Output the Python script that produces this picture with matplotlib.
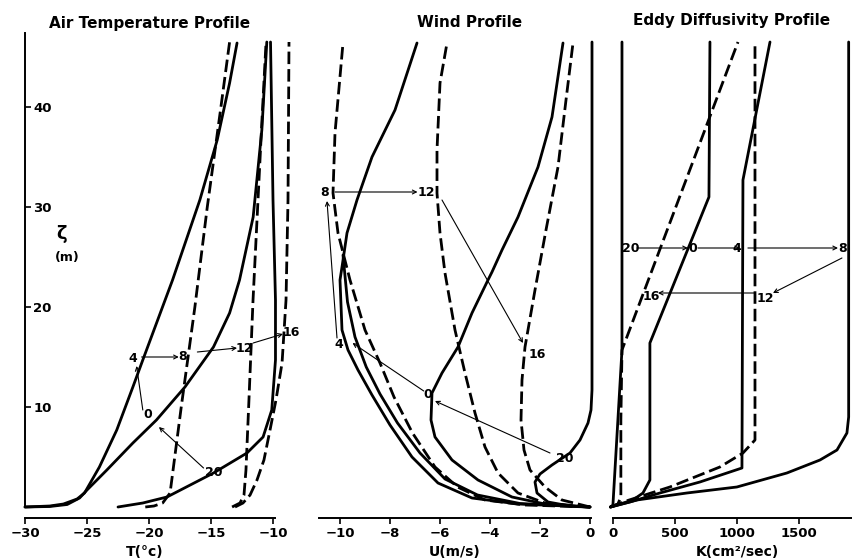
import matplotlib.pyplot as plt

plt.rcParams['font.family'] = ['DejaVu Sans']
plt.rcParams['font.weight'] = 'bold'

# heights are in metres; one profile per hour (0, 4, ... 20)
# air temperature (deg C)
temp_h0 = [-30.0, -28.0, -26.6, -25.6, -25.0, -23.4, -21.3, -19.4, -17.1, -14.8, -13.5, -12.7, -11.6, -10.9, -10.5]
z_temp_h0 = [0.0, 0.05, 0.25, 0.9, 1.7, 3.7, 6.4, 8.7, 12.0, 16.0, 19.4, 22.7, 29.0, 37.7, 46.5]
temp_h4 = [-30.0, -28.0, -26.9, -25.8, -25.2, -24.0, -22.6, -21.3, -20.5, -18.1, -15.9, -14.5, -13.5, -12.9]
z_temp_h4 = [0.0, 0.1, 0.3, 0.8, 1.4, 4.0, 7.7, 12.0, 14.7, 22.7, 30.7, 36.7, 42.4, 46.4]
temp_h8 = [-20.3, -19.6, -18.9, -18.3, -17.4, -16.3, -15.3, -14.2, -13.5]
z_temp_h8 = [0.0, 0.1, 0.4, 1.4, 10.0, 20.0, 30.0, 40.0, 46.5]
temp_h12 = [-13.3, -12.66, -12.34, -12.18, -11.94, -11.61, -11.21, -10.89, -10.56]
z_temp_h12 = [0.0, 0.4, 1.2, 3.7, 10.7, 20.7, 30.7, 38.7, 46.5]
temp_h16 = [-13.06, -12.42, -11.85, -11.29, -10.73, -10.24, -9.76, -9.27, -8.95, -8.79, -8.71]
z_temp_h16 = [0.0, 0.4, 1.2, 2.7, 4.7, 7.7, 10.7, 14.4, 20.7, 30.7, 46.5]
temp_h20 = [-22.5, -20.5, -18.55, -14.8, -12.1, -10.8, -10.1, -9.8, -9.8, -10.0, -10.2]
z_temp_h20 = [0.0, 0.4, 1.0, 3.4, 5.4, 7.0, 9.7, 14.7, 20.7, 30.7, 46.5]

# wind speed (m/s)
wind_h0 = [0.0, -1.8, -3.12, -4.48, -5.52, -6.2, -6.36, -6.32, -5.92, -5.28, -4.72, -4.08, -3.92, -3.52, -2.88, -2.08, -1.52, -1.08]
z_wind_h0 = [0.0, 0.3, 1.0, 2.7, 4.7, 7.0, 8.7, 11.4, 13.4, 16.0, 19.4, 22.7, 23.5, 25.7, 29.0, 34.0, 39.0, 46.4]
wind_h4 = [0.0, -2.88, -4.72, -6.08, -7.12, -8.0, -8.72, -9.28, -9.68, -9.92, -10.0, -9.92, -9.72, -9.32, -8.72, -7.8, -6.92]
z_wind_h4 = [0.0, 0.3, 0.9, 2.4, 5.0, 8.2, 11.2, 13.7, 15.7, 17.7, 22.7, 24.0, 27.4, 30.7, 35.0, 39.7, 46.4]
# second solid trace below the crossing with the hour-8 curve
wind_h4b = [0.0, -2.8, -4.5, -5.8, -6.8, -7.7, -8.4, -8.95, -9.4, -9.7, -9.88]
z_wind_h4b = [0.0, 0.35, 1.2, 2.8, 5.4, 8.4, 11.3, 14.0, 17.0, 20.5, 25.2]
wind_h8 = [0.0, -2.6, -4.2, -5.3, -6.2, -7.1, -7.84, -8.4, -9.0, -9.6, -10.08, -10.28, -10.2, -9.88]
z_wind_h8 = [0.0, 0.2, 0.7, 2.0, 4.0, 7.4, 11.0, 14.4, 17.7, 22.7, 27.4, 31.4, 37.4, 46.4]
wind_h12 = [0.0, -1.8, -2.88, -3.68, -4.2, -4.6, -5.0, -5.4, -5.8, -6.0, -6.12, -6.12, -6.0, -5.72]
z_wind_h12 = [0.0, 0.4, 1.4, 3.4, 6.0, 9.4, 13.4, 17.7, 23.4, 27.4, 31.4, 35.7, 42.4, 46.4]
wind_h16 = [0.0, -1.12, -1.8, -2.4, -2.64, -2.76, -2.72, -2.6, -2.2, -1.76, -1.28, -0.96, -0.68]
z_wind_h16 = [0.0, 0.7, 2.0, 3.7, 5.7, 8.7, 12.7, 16.0, 21.7, 27.7, 34.0, 40.7, 46.4]
wind_h20 = [0.0, -0.8, -1.68, -2.12, -2.2, -2.0, -1.52, -0.8, -0.4, -0.08, 0.04, 0.08, 0.08]
z_wind_h20 = [0.0, 0.1, 0.5, 1.4, 2.5, 3.3, 4.2, 5.4, 6.7, 8.4, 9.7, 11.7, 46.5]

# eddy diffusivity (cm2/sec)
eddy_h0 = [-20, 161, 242, 298, 298, 774, 782]
z_eddy_h0 = [0.0, 0.7, 1.4, 2.7, 16.4, 31.0, 46.5]
eddy_h4 = [-20, 137, 379, 701, 1040, 1048, 1266]
z_eddy_h4 = [0.0, 0.5, 1.4, 2.5, 3.9, 32.7, 46.5]
eddy_h8 = [-20, 193, 596, 999, 1402, 1669, 1806, 1886, 1900, 1900]
z_eddy_h8 = [0.0, 0.7, 1.4, 2.0, 3.4, 4.7, 5.7, 7.4, 9.0, 46.5]
eddy_h12 = [-20, 81, 459, 862, 1048, 1145, 1145]
z_eddy_h12 = [0.0, 0.5, 2.0, 4.0, 5.4, 6.7, 46.4]
eddy_h16 = [-20, 40, 64, 64, 73, 1008]
z_eddy_h16 = [0.0, 0.3, 1.0, 8.7, 15.7, 46.5]
eddy_h20 = [-20, 0, 73, 73]
z_eddy_h20 = [0.0, 0.2, 15.7, 46.5]

hours = ['0', '4', '8', '12', '16', '20']
# which hours are drawn dashed in each panel
temp_dashed = [False, False, True, True, True, False]
wind_dashed = [False, False, True, True, True, False]
eddy_dashed = [False, False, False, True, True, False]

# where each hour is written, and the arrows joining successive labels
temp_labels = [(-20.1, 9.2), (-21.3, 14.9), (-17.3, 15.0), (-12.3, 15.9), (-8.5, 17.5), (-14.8, 3.5)]
temp_arrows = [((-20.5, 9.7), (-21.0, 14.1)), ((-20.6, 15.0), (-17.6, 15.0)),
               ((-16.1, 15.5), (-12.9, 15.9)), ((-11.6, 16.4), (-9.2, 17.3)),
               ((-15.6, 3.9), (-19.2, 8.0))]
wind_labels = [(-6.5, 11.2), (-10.04, 16.2), (-10.6, 31.4), (-6.56, 31.4), (-2.1, 15.2), (-1.0, 4.9)]
wind_arrows = [((-10.2, 31.5), (-6.9, 31.5)), ((-5.92, 30.7), (-2.68, 16.4)),
               ((-1.6, 5.4), (-6.2, 10.6)), ((-6.65, 11.6), (-9.5, 16.4)),
               ((-10.12, 16.9), (-10.52, 30.6))]
eddy_labels = [(645, 25.8), (999, 25.8), (1854, 25.8), (1225, 20.8), (306, 21.0), (145, 25.8)]
eddy_arrows = [((193, 25.9), (604, 25.9)), ((685, 25.9), (1024, 25.9)),
               ((1088, 25.9), (1814, 25.9)), ((1846, 24.9), (1290, 21.4)),
               ((1145, 21.4), (363, 21.4))]

W, H = 853, 559
fig = plt.figure(figsize=(W / 100, H / 100), dpi=100)
Z_TOP = 47.4


def panel(x0, x1, xlim, bounds, ticks):
    # x0, x1 are pixel columns of the axes box; z=0 sits at row 507
    ax = fig.add_axes([x0 / W, 1 - 507 / H, (x1 - x0) / W, (507 - 33) / H])
    ax.set_xlim(xlim)
    ax.set_ylim(0, Z_TOP)
    ax.patch.set_visible(False)
    for s in ['top', 'right', 'left']:
        ax.spines[s].set_visible(False)
    ax.spines['bottom'].set_position(('outward', 8))
    ax.spines['bottom'].set_bounds(*bounds)
    ax.spines['bottom'].set_linewidth(1.4)
    ax.set_xticks(ticks)
    ax.tick_params(axis='x', direction='out', length=4, width=1.2, labelsize=9.5, pad=2.5)
    ax.set_yticks([])
    return ax


def line(ax, x, z, dash=False):
    ax.plot(x, z, color='k', lw=2.0, ls=(0, (4.5, 1.8)) if dash else '-',
            clip_on=False, solid_capstyle='round')


def draw(ax, curves, dashed, labels, arrows):
    for (x, z), dash in zip(curves, dashed):
        line(ax, x, z, dash)
    for h, (x, z) in zip(hours, labels):
        ax.text(x, z, h, ha='center', va='center', fontsize=9)
    for start, end in arrows:
        ax.annotate('', xy=end, xytext=start,
                    arrowprops=dict(arrowstyle='->', lw=0.8, color='k',
                                    shrinkA=0, shrinkB=0, mutation_scale=7))


ax1 = panel(25, 295, (-30, -30 + 270 / 12.4), (-30, -9.8), [-30, -25, -20, -15, -10])
ax1.spines['left'].set_visible(True)
ax1.spines['left'].set_linewidth(1.4)
ax1.set_yticks([10, 20, 30, 40])
ax1.tick_params(axis='y', direction='in', length=4, width=1.2, labelsize=9.5, pad=-6)
for lab in ax1.get_yticklabels():
    lab.set_horizontalalignment('left')
draw(ax1, [(temp_h0, z_temp_h0), (temp_h4, z_temp_h4), (temp_h8, z_temp_h8),
           (temp_h12, z_temp_h12), (temp_h16, z_temp_h16), (temp_h20, z_temp_h20)],
     temp_dashed, temp_labels, temp_arrows)

ax2 = panel(300, 600, (-11.6, 0.4), (-10.85, 0.05), [-10, -8, -6, -4, -2, 0])
draw(ax2, [(wind_h0, z_wind_h0), (wind_h4, z_wind_h4), (wind_h8, z_wind_h8),
           (wind_h12, z_wind_h12), (wind_h16, z_wind_h16), (wind_h20, z_wind_h20)],
     wind_dashed, wind_labels, wind_arrows)
line(ax2, wind_h4b, z_wind_h4b)

ax3 = panel(603, 853, (-80, 1935), (0, 1935), [0, 500, 1000, 1500])
draw(ax3, [(eddy_h0, z_eddy_h0), (eddy_h4, z_eddy_h4), (eddy_h8, z_eddy_h8),
           (eddy_h12, z_eddy_h12), (eddy_h16, z_eddy_h16), (eddy_h20, z_eddy_h20)],
     eddy_dashed, eddy_labels, eddy_arrows)

# titles and axis names
fig.text(150 / W, 1 - 28 / H, 'Air Temperature Profile', ha='center', va='baseline', fontsize=11)
fig.text(470 / W, 1 - 27 / H, 'Wind Profile', ha='center', va='baseline', fontsize=11)
fig.text(732 / W, 1 - 25 / H, 'Eddy Diffusivity Profile', ha='center', va='baseline', fontsize=11)
fig.text(145 / W, 1 - 552 / H, 'T(°c)', ha='center', va='center', fontsize=10)
fig.text(455 / W, 1 - 552 / H, 'U(m/s)', ha='center', va='center', fontsize=10)
fig.text(737 / W, 1 - 552 / H, 'K(cm²/sec)', ha='center', va='center', fontsize=10)
fig.text(62 / W, 1 - 234 / H, 'ζ', ha='center', va='center', fontsize=13)
fig.text(67 / W, 1 - 258 / H, '(m)', ha='center', va='center', fontsize=9)

fig.savefig('out.png', dpi=100)
